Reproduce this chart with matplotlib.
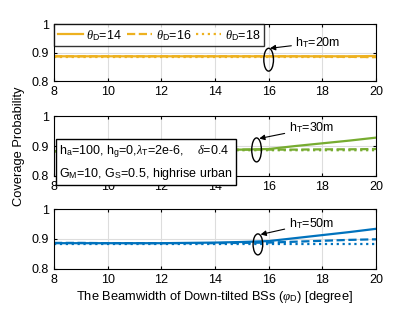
import matplotlib
matplotlib.use("Agg")
import matplotlib.pyplot as plt
from matplotlib.patches import Ellipse
import numpy as np

plt.rcParams['font.family'] = ['Liberation Sans', 'DejaVu Sans']
plt.rcParams['font.size'] = 9
plt.rcParams['mathtext.fontset'] = 'custom'
plt.rcParams['mathtext.rm'] = 'Liberation Sans'
plt.rcParams['mathtext.it'] = 'Liberation Serif:italic'

phi = [8, 9, 10, 11, 12, 13, 14, 15, 16, 17, 18, 19, 20]

# hT = 20m
h20_t14 = [0.887, 0.887, 0.887, 0.887, 0.887, 0.887, 0.887, 0.887, 0.887, 0.887, 0.887, 0.887, 0.888]
h20_t16 = [0.887, 0.887, 0.887, 0.887, 0.887, 0.887, 0.887, 0.887, 0.887, 0.887, 0.886, 0.885, 0.884]
h20_t18 = [0.886, 0.886, 0.886, 0.886, 0.886, 0.886, 0.886, 0.886, 0.886, 0.886, 0.886, 0.886, 0.886]
# hT = 30m
h30_t14 = [0.882, 0.883, 0.883, 0.884, 0.885, 0.886, 0.887, 0.888, 0.890, 0.900, 0.909, 0.918, 0.928]
h30_t16 = [0.883, 0.883, 0.884, 0.884, 0.885, 0.886, 0.887, 0.888, 0.888, 0.888, 0.889, 0.889, 0.890]
h30_t18 = [0.883, 0.883, 0.884, 0.884, 0.885, 0.886, 0.886, 0.886, 0.886, 0.886, 0.886, 0.886, 0.886]
# hT = 50m
h50_t14 = [0.886, 0.886, 0.886, 0.886, 0.886, 0.887, 0.888, 0.890, 0.893, 0.903, 0.913, 0.923, 0.934]
h50_t16 = [0.887, 0.887, 0.886, 0.886, 0.886, 0.886, 0.886, 0.887, 0.888, 0.891, 0.894, 0.897, 0.899]
h50_t18 = [0.882, 0.882, 0.882, 0.882, 0.882, 0.882, 0.882, 0.882, 0.882, 0.882, 0.882, 0.882, 0.882]

colors = ['#EDB120', '#77AC30', '#0072BD']
labels = [r'$\theta_{\rm D}$=14', r'$\theta_{\rm D}$=16', r'$\theta_{\rm D}$=18']
series = [(h20_t14, h20_t16, h20_t18), (h30_t14, h30_t16, h30_t18), (h50_t14, h50_t16, h50_t18)]
htext = [r'h$_{\rm T}$=20m', r'h$_{\rm T}$=30m', r'h$_{\rm T}$=50m']
ell_x = [16.0, 15.55, 15.6]
ell_y = [0.875, 0.887, 0.882]
ell_h = [0.08, 0.08, 0.07]
txt_pos = [(17.0, 0.935), (16.75, 0.96), (16.75, 0.953)]
arr_end = [(16.05, 0.915), (15.65, 0.925), (15.7, 0.915)]

fig = plt.figure(figsize=(4.15, 3.12), dpi=100)
rects = [[0.130, 0.740, 0.776, 0.183],
         [0.130, 0.436, 0.776, 0.192],
         [0.130, 0.138, 0.776, 0.192]]
styles = ['-', '--', ':']
axes = []
for i, r in enumerate(rects):
    ax = fig.add_axes(r)
    axes.append(ax)
    for j in range(3):
        ax.plot(phi, series[i][j], linestyle=styles[j], color=colors[i], lw=1.6, label=labels[j])
    ax.set_xlim(8, 20)
    ax.set_ylim(0.8, 1.0)
    ax.set_xticks([8, 10, 12, 14, 16, 18, 20])
    ax.set_yticks([0.8, 0.9, 1.0])
    ax.set_yticklabels(['0.8', '0.9', '1'])
    ax.grid(True, color='#dddddd', lw=0.8)
    ax.set_axisbelow(True)
    ax.tick_params(direction='in', length=2, labelsize=9, top=True, right=True)
    for s in ax.spines.values():
        s.set_linewidth(0.8)
    e = Ellipse((ell_x[i], ell_y[i]), width=0.36, height=ell_h[i], fill=False, ec='black', lw=1.0, zorder=5)
    ax.add_patch(e)
    ax.annotate(htext[i], xy=arr_end[i], xytext=txt_pos[i],
                fontsize=9, va='center', ha='left',
                arrowprops=dict(arrowstyle='-|>', color='black', lw=0.8, mutation_scale=8,
                                shrinkA=1, shrinkB=0))

leg = axes[0].legend(loc='upper left', ncol=3, fontsize=9, frameon=True, fancybox=False,
                     edgecolor='black', borderaxespad=0.0, handlelength=2.0, columnspacing=0.4,
                     borderpad=0.3, handletextpad=0.3)
leg.get_frame().set_linewidth(1.0)

axes[1].text(8.2, 0.845, 'h$_{\\rm a}$=100, h$_{\\rm g}$=0,$\\lambda_{\\rm T}$=2e-6,    $\\delta$=0.4\nG$_{\\rm M}$=10, G$_{\\rm S}$=0.5, highrise urban',
             fontsize=9, va='center', ha='left', linespacing=1.6,
             bbox=dict(boxstyle='square,pad=0.25', fc='white', ec='black', lw=1.0))

axes[2].set_xlabel(r'The Beamwidth of Down-tilted BSs ($\varphi_{\rm D}$) [degree]', fontsize=9.3, labelpad=2)
fig.text(0.045, 0.53, 'Coverage Probability', rotation=90, va='center', ha='center', fontsize=9.3)

fig.savefig('out.png', dpi=100)
